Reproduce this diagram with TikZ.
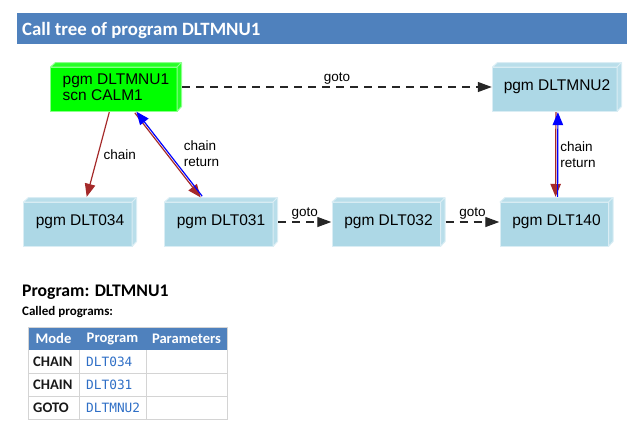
\documentclass[tikz,border=0pt]{standalone}
\usepackage{fontspec}
\setmainfont{Liberation Sans}
\newfontfamily\calfont{Carlito}
\newfontfamily\codefont{DejaVu Sans Mono}
\usetikzlibrary{arrows.meta}
\definecolor{pgmblue}{HTML}{ADD8E6}
\definecolor{pgmgreen}{HTML}{00FF00}
\definecolor{chainred}{HTML}{A52A2A}
\definecolor{barblue}{HTML}{4F81BD}
\definecolor{gridgray}{HTML}{D4D4D4}
\definecolor{linkblue}{HTML}{2F6FC6}
\tikzset{
  pgm/.style={rectangle, minimum height=50pt, inner sep=0pt, align=left,
    font=\fontsize{15.5}{16.5}\selectfont,
    path picture={
      \filldraw[fill=#1, draw=#1!45!white, line width=1pt]
        ([xshift=0.5pt,yshift=-5pt]path picture bounding box.north west) rectangle
        ([xshift=-5pt,yshift=0.5pt]path picture bounding box.south east);
      \filldraw[fill=#1!85!white, draw=#1!45!white, line width=1pt, line join=round]
        ([xshift=0.5pt,yshift=-5pt]path picture bounding box.north west) --
        ([xshift=5.5pt,yshift=-0.5pt]path picture bounding box.north west) --
        ([xshift=-0.5pt,yshift=-0.5pt]path picture bounding box.north east) --
        ([xshift=-0.5pt,yshift=5.5pt]path picture bounding box.south east) --
        ([xshift=-5pt,yshift=0.5pt]path picture bounding box.south east) --
        ([xshift=-5pt,yshift=-5pt]path picture bounding box.north east) -- cycle
        ([xshift=-5pt,yshift=-5pt]path picture bounding box.north east) --
        ([xshift=-0.5pt,yshift=-0.5pt]path picture bounding box.north east);
    }},
  pgm/.default=pgmblue,
  gotoedge/.style={-{Triangle[length=14pt,width=10pt]}, dash pattern=on 8pt off 6pt,
    line width=1.2pt, black!85},
  callchain/.style={-{Triangle[length=13pt,width=10.5pt]}, chainred, line width=1.2pt},
  callreturn/.style={{Triangle[length=13pt,width=10.5pt]}-, blue, line width=1.2pt},
  lbl/.style={font=\fontsize{13.5}{16}\selectfont, align=left, inner sep=2pt, text=black},
  thead/.style={font=\calfont\bfseries\fontsize{14.6}{16}\selectfont, text=white, inner sep=0pt},
  tmode/.style={font=\calfont\bfseries\fontsize{14.6}{16}\selectfont, text=black!90, inner sep=0pt, anchor=west},
  tprog/.style={font=\codefont\fontsize{12.8}{15}\selectfont, text=linkblue, inner sep=0pt, anchor=west}
}
\begin{document}
\begin{tikzpicture}[x=1pt, y=-1pt]
\useasboundingbox (0,0) rectangle (627,421);
% title bar
\fill[barblue] (17,12.5) rectangle (627,43.5);
\node[anchor=base west, text=white, font=\calfont\bfseries\fontsize{18.8}{20}\selectfont, inner sep=0pt] (title) at (22,35) {Call tree of program DLTMNU1};

% programs
\node[pgm=pgmgreen, minimum width=132pt] (mnu1) at (116,87) {pgm DLTMNU1\\scn CALM1};
\node[pgm, minimum width=130pt] (mnu2) at (557,87) {pgm DLTMNU2};
\node[pgm, minimum width=114pt] (d034) at (80,222) {pgm DLT034};
\node[pgm, minimum width=114pt] (d031) at (221,222) {pgm DLT031};
\node[pgm, minimum width=114pt] (d032) at (388.5,222) {pgm DLT032};
\node[pgm, minimum width=114pt] (d140) at (556.5,222) {pgm DLT140};

% calls
\draw[gotoedge] (mnu1) -- node[lbl, above] {goto} (mnu2);
\draw[gotoedge] (d031) -- node[lbl, above] {goto} (d032);
\draw[gotoedge] (d032) -- node[lbl, above] {goto} (d140);
\draw[callchain] (mnu1) -- node[lbl, right=3pt] {chain} (d034);
\draw[callchain, transform canvas={xshift=-0.8pt, yshift=-0.6pt}] (mnu1) -- (d031);
\draw[callreturn, transform canvas={xshift=0.8pt, yshift=0.6pt}] (mnu1) -- node[lbl, right=12pt] {chain\\return} (d031);
\draw[callchain, transform canvas={xshift=-1pt}] (mnu2) -- (d140);
\draw[callreturn, transform canvas={xshift=1pt}] (mnu2) -- node[lbl, right] {chain\\return} (d140);

% program details
\node[anchor=base west, font=\calfont\bfseries\fontsize{17.7}{20}\selectfont, inner sep=0pt] (prog) at (22,296) {Program: DLTMNU1};
\node[anchor=base west, font=\calfont\bfseries\fontsize{13}{15}\selectfont, inner sep=0pt] (called) at (22,315.5) {Called programs:};

% called programs table
\fill[barblue] (28,327) rectangle (227,350);
\draw[gridgray, line width=1pt] (28,327) rectangle (227,419);
\draw[gridgray, line width=1pt] (28,373) -- (227,373) (28,396) -- (227,396)
  (79,350) -- (79,419) (146,350) -- (146,419);
\node[thead] (hmode) at (53.5,338.5) {Mode};
\node[thead] (hprog) at (112.5,338.5) {Program};
\node[thead] (hparm) at (186.5,338.5) {Parameters};
\foreach \y/\m/\p [count=\i] in {361.5/CHAIN/DLT034, 384.5/CHAIN/DLT031, 407.5/GOTO/DLTMNU2} {
  \node[tmode] (mode\i) at (33,\y) {\m};
  \node[tprog] (prog\i) at (86,\y) {\p};
}
\end{tikzpicture}
\end{document}
